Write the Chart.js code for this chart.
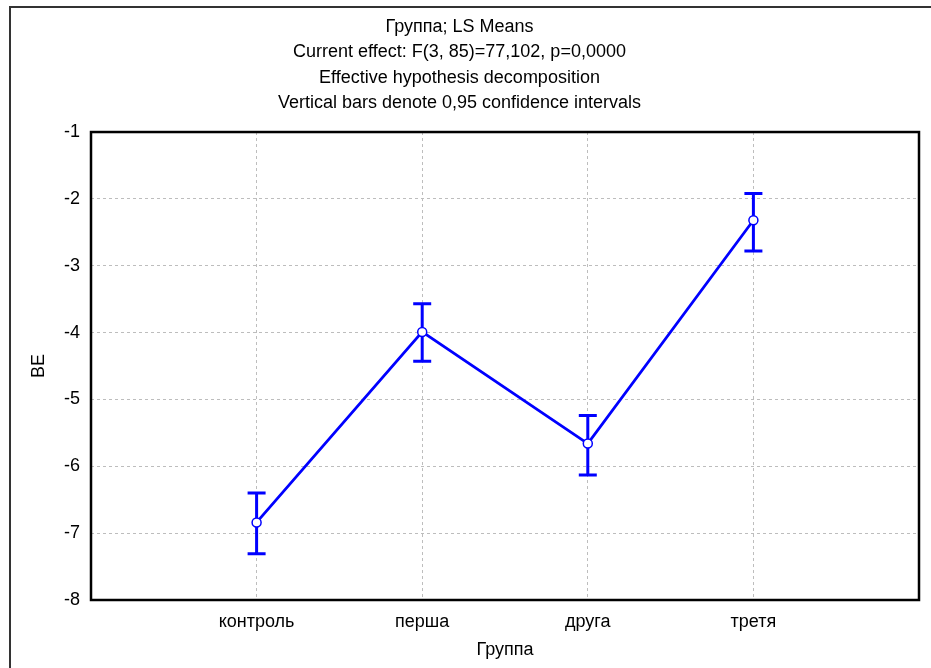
<!DOCTYPE html>
<html>
<head>
<meta charset="utf-8">
<script src="https://cdn.jsdelivr.net/npm/chart.js@4"></script>
<style>
  body { margin: 0; background: #fff; }
</style>
</head>
<body>
<canvas id="chart" width="931" height="668"></canvas>
<script>
// LS means per group with 0,95 confidence limits
const groups = ['контроль', 'перша', 'друга', 'третя'];
const means = [-6.84, -3.99, -5.66, -2.32];
const upper = [-6.40, -3.57, -5.24, -1.92];
const lower = [-7.31, -4.43, -6.13, -2.78];
const yTicks = [-8, -7, -6, -5, -4, -3, -2, -1];

const titleLines = [
    'Группа; LS Means',
    'Current effect: F(3, 85)=77,102, p=0,0000',
    'Effective hypothesis decomposition',
    'Vertical bars denote 0,95 confidence intervals'
];

const fontFamily = '"Liberation Sans", Arial, sans-serif';
const blue = '#0000ff';

// whiskers go under the line and markers
const errorBars = {
    id: 'errorBars',
    beforeDatasetsDraw(chart) {
        const ctx = chart.ctx;
        const xs = chart.scales.x;
        const ys = chart.scales.y;
        ctx.save();
        ctx.strokeStyle = blue;
        ctx.lineWidth = 3;
        for (let i = 0; i < groups.length; i++) {
            let x = xs.getPixelForValue(i + 1);
            let yTop = ys.getPixelForValue(upper[i]);
            let yBot = ys.getPixelForValue(lower[i]);
            ctx.beginPath();
            ctx.moveTo(x, yTop);
            ctx.lineTo(x, yBot);
            ctx.moveTo(x - 9, yTop);
            ctx.lineTo(x + 9, yTop);
            ctx.moveTo(x - 9, yBot);
            ctx.lineTo(x + 9, yBot);
            ctx.stroke();
        }
        ctx.restore();
    }
};

const frames = {
    id: 'frames',
    afterDraw(chart) {
        const ctx = chart.ctx;
        const a = chart.chartArea;
        ctx.save();
        ctx.strokeStyle = '#000';
        ctx.lineWidth = 2.5;
        ctx.strokeRect(a.left, a.top, a.right - a.left, a.bottom - a.top);
        // outer panel frame (only top/left are on the picture)
        ctx.strokeStyle = '#333';
        ctx.lineWidth = 2;
        ctx.beginPath();
        ctx.moveTo(10, 668);
        ctx.lineTo(10, 7);
        ctx.lineTo(931, 7);
        ctx.stroke();
        ctx.restore();
    }
};

const gridColor = (ok) => ok ? '#bdbdbd' : 'rgba(0,0,0,0)';

new Chart(document.getElementById('chart'), {
    type: 'line',
    data: {
        datasets: [{
            data: means.map((m, i) => ({ x: i + 1, y: m })),
            borderColor: blue,
            borderWidth: 2.8,
            pointRadius: 4.5,
            pointBackgroundColor: '#fff',
            pointBorderColor: blue,
            pointBorderWidth: 1.5,
            tension: 0
        }]
    },
    options: {
        responsive: false,
        animation: false,
        layout: { padding: { left: 0, right: 12, top: 0, bottom: 0 } },
        plugins: {
            legend: { display: false },
            tooltip: { enabled: false },
            title: {
                display: true,
                text: titleLines,
                color: '#000',
                font: { family: fontFamily, size: 18, weight: 'normal', lineHeight: 1.417 },
                padding: { top: 14, bottom: 16 }
            }
        },
        scales: {
            x: {
                type: 'linear',
                min: 0,
                max: 5,
                afterFit: (s) => { s.height = 68; },
                afterBuildTicks: (s) => { s.ticks = [0, 1, 2, 3, 4, 5].map(v => ({ value: v })); },
                ticks: {
                    color: '#000',
                    padding: 11,
                    maxRotation: 0,
                    autoSkip: false,
                    font: { family: fontFamily, size: 18 },
                    callback: (v) => groups[v - 1] || ''
                },
                grid: {
                    drawTicks: false,
                    color: (c) => gridColor(c.tick && c.tick.value > 0 && c.tick.value < 5),
                    lineWidth: 1
                },
                border: { display: false, dash: [3, 3] },
                title: {
                    display: true,
                    text: 'Группа',
                    color: '#000',
                    font: { family: fontFamily, size: 18 },
                    padding: { top: 0, bottom: 7 }
                }
            },
            y: {
                min: -8,
                max: -1,
                afterFit: (s) => { s.width = 91; },
                afterBuildTicks: (s) => { s.ticks = yTicks.map(v => ({ value: v })); },
                ticks: {
                    color: '#000',
                    padding: 11,
                    font: { family: fontFamily, size: 18 }
                },
                grid: {
                    drawTicks: false,
                    color: (c) => gridColor(c.tick && c.tick.value > -8 && c.tick.value < -1),
                    lineWidth: 1
                },
                border: { display: false, dash: [3, 3] },
                title: {
                    display: true,
                    text: 'BE',
                    color: '#000',
                    font: { family: fontFamily, size: 18 },
                    padding: { top: 28, bottom: 0 }
                }
            }
        }
    },
    plugins: [errorBars, frames]
});
</script>
</body>
</html>
